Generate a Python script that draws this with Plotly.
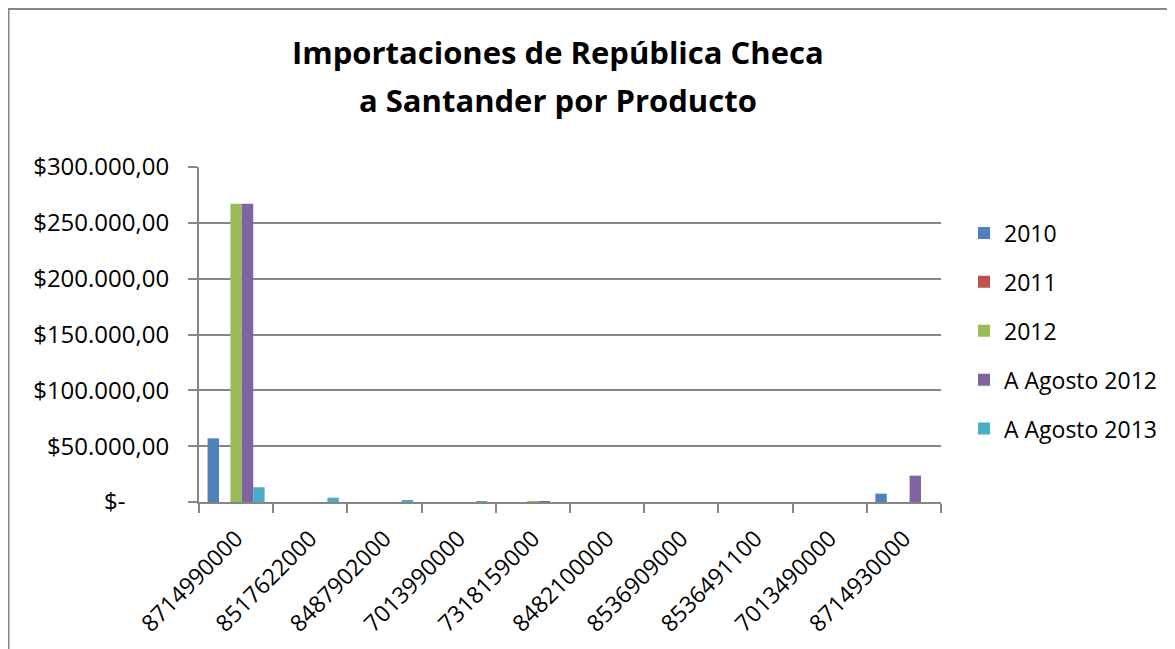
import plotly.graph_objects as go

categories = ["8714990000", "8517622000", "8487902000", "7013990000", "7318159000",
              "8482100000", "8536909000", "8536491100", "7013490000", "8714930000"]
series_names = ["2010", "2011", "2012", "A Agosto 2012", "A Agosto 2013"]
v2010 = [57000, 0, 0, 0, 0, 0, 0, 0, 0, 7500]
v2011 = [0, 0, 0, 0, 0, 0, 0, 0, 0, 0]
v2012 = [267000, 0, 0, 0, 300, 0, 0, 0, 0, 0]
vago2012 = [267000, 0, 0, 0, 300, 0, 0, 0, 0, 23600]
vago2013 = [13200, 3900, 1300, 400, 0, 0, 0, 0, 0, 0]
colors = ["#4F81BD", "#C0504D", "#9BBB59", "#8064A2", "#4BACC6"]

tick_vals = [0, 50000, 100000, 150000, 200000, 250000, 300000]
tick_text = ["$-" + "\u00a0" * 7, "$50.000,00", "$100.000,00", "$150.000,00",
             "$200.000,00", "$250.000,00", "$300.000,00"]

title_lines = ["Importaciones de República Checa", "a Santander por Producto"]

FONT = "Open Sans"
GRID = "#868686"
OFF = 8  # page body margin

fig = go.Figure()
for name, vals, col in zip(series_names, [v2010, v2011, v2012, vago2012, vago2013], colors):
    fig.add_trace(go.Bar(x=categories, y=vals, name=name, marker=dict(color=col, line=dict(width=0)),
                         legendgroup=name))

W, H = 1175 - OFF, 649 - OFF
L, R, T, B = 199 - OFF, 941 - OFF, 167 - OFF, 502 - OFF


def px_to_paper_x(px):
    return (px - OFF - L) / (R - L)


def px_to_paper_y(py):
    return (B - (py - OFF)) / (B - T)


fig.update_layout(
    width=W, height=H,
    margin=dict(l=L, r=W - R, t=T, b=H - B, autoexpand=False),
    paper_bgcolor="white", plot_bgcolor="white",
    barmode="group", bargap=1.5 / 6.5, bargroupgap=0,
    font=dict(family=FONT, size=23, color="#000000"),
    showlegend=True,
    legend=dict(x=px_to_paper_x(964), xanchor="left", y=px_to_paper_y(331), yanchor="middle",
                font=dict(family=FONT, size=23), tracegroupgap=16,
                bgcolor="rgba(0,0,0,0)"),
    xaxis=dict(type="category", showline=True, linecolor=GRID, linewidth=2,
               ticks="outside", tickson="boundaries", ticklen=9, tickcolor=GRID, tickwidth=2,
               tickangle=-45, tickfont=dict(family=FONT, size=23), showgrid=False,
               ticklabelstandoff=12, ticklabelshift=0),
    yaxis=dict(range=[0, 300000], tickvals=tick_vals, ticktext=tick_text,
               showline=True, linecolor=GRID, linewidth=2,
               ticks="outside", ticklen=9, tickcolor=GRID, tickwidth=2,
               showgrid=True, gridcolor=GRID, gridwidth=2, zeroline=False,
               ticklabelstandoff=14,
               tickfont=dict(family=FONT, size=24)),
)

fig.add_annotation(text="<b>" + title_lines[0] + "</b>", xref="paper", yref="paper",
                   x=px_to_paper_x(558), y=px_to_paper_y(52), xanchor="center", yanchor="middle",
                   showarrow=False, font=dict(family=FONT, size=31, color="#000000"))
fig.add_annotation(text="<b>" + title_lines[1] + "</b>", xref="paper", yref="paper",
                   x=px_to_paper_x(558), y=px_to_paper_y(100), xanchor="center", yanchor="middle",
                   showarrow=False, font=dict(family=FONT, size=31, color="#000000"))

fig.add_shape(type="rect", xref="paper", yref="paper",
              x0=px_to_paper_x(8.5), y0=px_to_paper_y(700), x1=px_to_paper_x(1250), y1=px_to_paper_y(9),
              line=dict(color=GRID, width=2), fillcolor="rgba(0,0,0,0)", layer="below")

fig.write_html("out.html")
